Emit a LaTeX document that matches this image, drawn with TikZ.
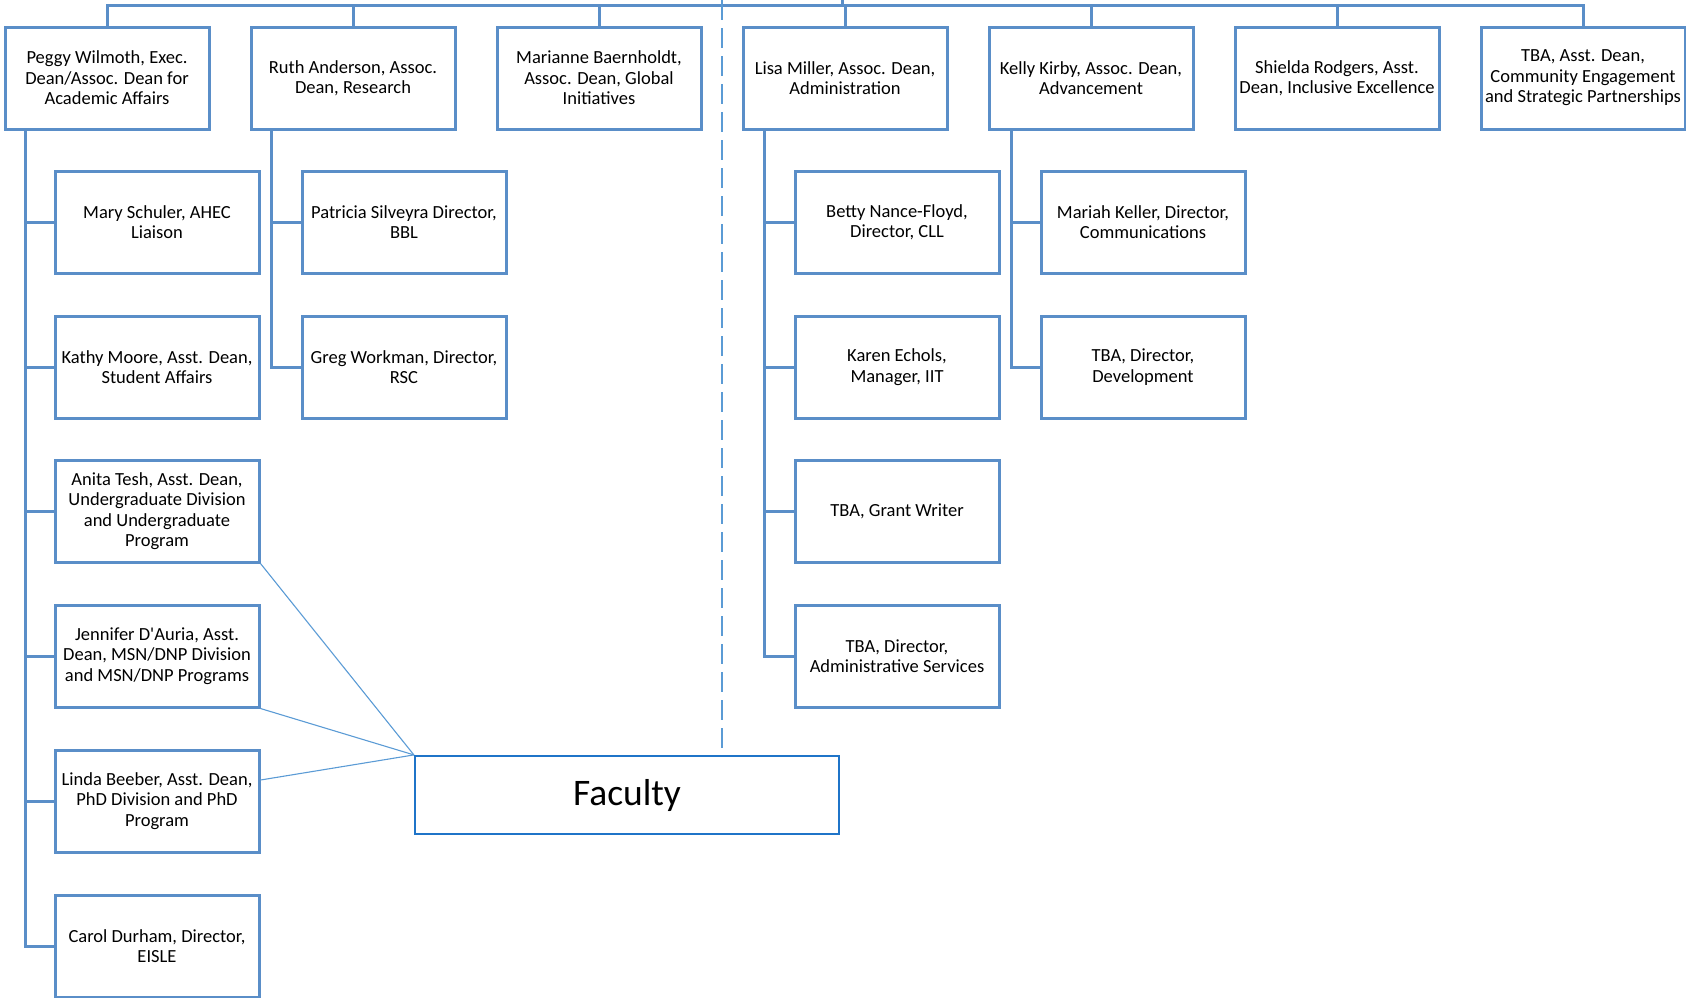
\documentclass[tikz,border=0pt]{standalone}
\usepackage{fontspec}
\setmainfont{Carlito}
\usetikzlibrary{calc}
\definecolor{boxblue}{HTML}{5A8EC8}
\definecolor{lightblue}{HTML}{5B9BD5}
\definecolor{facblue}{HTML}{1F74C8}
\tikzset{
  orgbox/.style={draw=boxblue, line width=3pt, minimum width=204pt, minimum height=102pt,
    align=center, inner sep=1pt, font=\fontsize{18.5}{20.4}\selectfont, fill=white},
  conn/.style={draw=boxblue, line width=3pt},
  thin/.style={draw=lightblue, line width=1.1pt},
  dashline/.style={draw=lightblue, line width=2.6pt, dash pattern=on 20pt off 8pt},
  facbox/.style={draw=facblue, line width=2.2pt, minimum width=424pt, minimum height=78pt,
    font=\fontsize{37.5}{42}\selectfont, fill=white}
}
\begin{document}
\begin{tikzpicture}[x=1pt,y=-1pt]
\useasboundingbox (0,0) rectangle (1686,997);
% top-level boxes
\node[orgbox] (p1) at (107,78) {Peggy Wilmoth, Exec.\\Dean/Assoc. Dean for\\Academic Affairs};
\node[orgbox] (p2) at (353,78) {Ruth Anderson, Assoc.\\Dean, Research};
\node[orgbox] (p3) at (599,78) {Marianne Baernholdt,\\Assoc. Dean, Global\\Initiatives};
\node[orgbox] (p4) at (845,78) {Lisa Miller, Assoc. Dean,\\Administration};
\node[orgbox] (p5) at (1091,78) {Kelly Kirby, Assoc. Dean,\\Advancement};
\node[orgbox] (p6) at (1337,78) {Shielda Rodgers, Asst.\\Dean, Inclusive Excellence};
\node[orgbox] (p7) at (1583,78) {TBA, Asst. Dean,\\Community Engagement\\and Strategic Partnerships};
% column 1 children
\node[orgbox] (a1) at (157,222) {Mary Schuler, AHEC\\Liaison};
\node[orgbox] (a2) at (157,367) {Kathy Moore, Asst. Dean,\\Student Affairs};
\node[orgbox] (a3) at (157,511) {Anita Tesh, Asst. Dean,\\Undergraduate Division\\and Undergraduate\\Program};
\node[orgbox] (a4) at (157,656) {Jennifer D\textquotesingle Auria, Asst.\\Dean, MSN/DNP Division\\and MSN/DNP Programs};
\node[orgbox] (a5) at (157,801) {Linda Beeber, Asst. Dean,\\PhD Division and PhD\\Program};
\node[orgbox] (a6) at (157,946) {Carol Durham, Director,\\EISLE};
% column 2 children
\node[orgbox] (b1) at (404,222) {Patricia Silveyra Director,\\BBL};
\node[orgbox] (b2) at (404,367) {Greg Workman, Director,\\RSC};
% column 4 children
\node[orgbox] (d1) at (897,222) {Betty Nance-Floyd,\\Director, CLL};
\node[orgbox] (d2) at (897,367) {Karen Echols,\\Manager, IIT};
\node[orgbox] (d3) at (897,511) {TBA, Grant Writer};
\node[orgbox] (d4) at (897,656) {TBA, Director,\\Administrative Services};
% column 5 children
\node[orgbox] (e1) at (1143,222) {Mariah Keller, Director,\\Communications};
\node[orgbox] (e2) at (1143,367) {TBA, Director,\\Development};
% faculty
\node[facbox] (fac) at (627,795) {Faculty};
% top bus
\coordinate (bus) at (0,5);
\coordinate (root) at (842,0);
\coordinate (dashtop) at (722,0);
\draw[conn] (p1.north) |- (bus -| p7.north) -- (p7.north);
\foreach \n in {p2,p3,p4,p5,p6} \draw[conn] (\n.north) -- (\n.north |- bus);
\draw[conn] (root) -- (root |- bus);
% trunks
\coordinate (t1) at ($(p1.south west)+(22,0)$);
\coordinate (t2) at ($(p2.south west)+(22,0)$);
\coordinate (t4) at ($(p4.south west)+(23,0)$);
\coordinate (t5) at ($(p5.south west)+(24,0)$);
\draw[conn] (t1) |- (a6.west);
\foreach \n in {a1,a2,a3,a4,a5} \draw[conn] (t1 |- \n.west) -- (\n.west);
\draw[conn] (t2) |- (b2.west);
\draw[conn] (t2 |- b1.west) -- (b1.west);
\draw[conn] (t4) |- (d4.west);
\foreach \n in {d1,d2,d3} \draw[conn] (t4 |- \n.west) -- (\n.west);
\draw[conn] (t5) |- (e2.west);
\draw[conn] (t5 |- e1.west) -- (e1.west);
% dashed separator
\draw[dashline] (dashtop) -- (dashtop |- fac.north);
% faculty links
\draw[thin] (fac.north west) -- (a3.south east);
\draw[thin] (fac.north west) -- (a4.south east);
\draw[thin] (fac.north west) -- ($(a5.east)+(0,-21)$);
\end{tikzpicture}
\end{document}
